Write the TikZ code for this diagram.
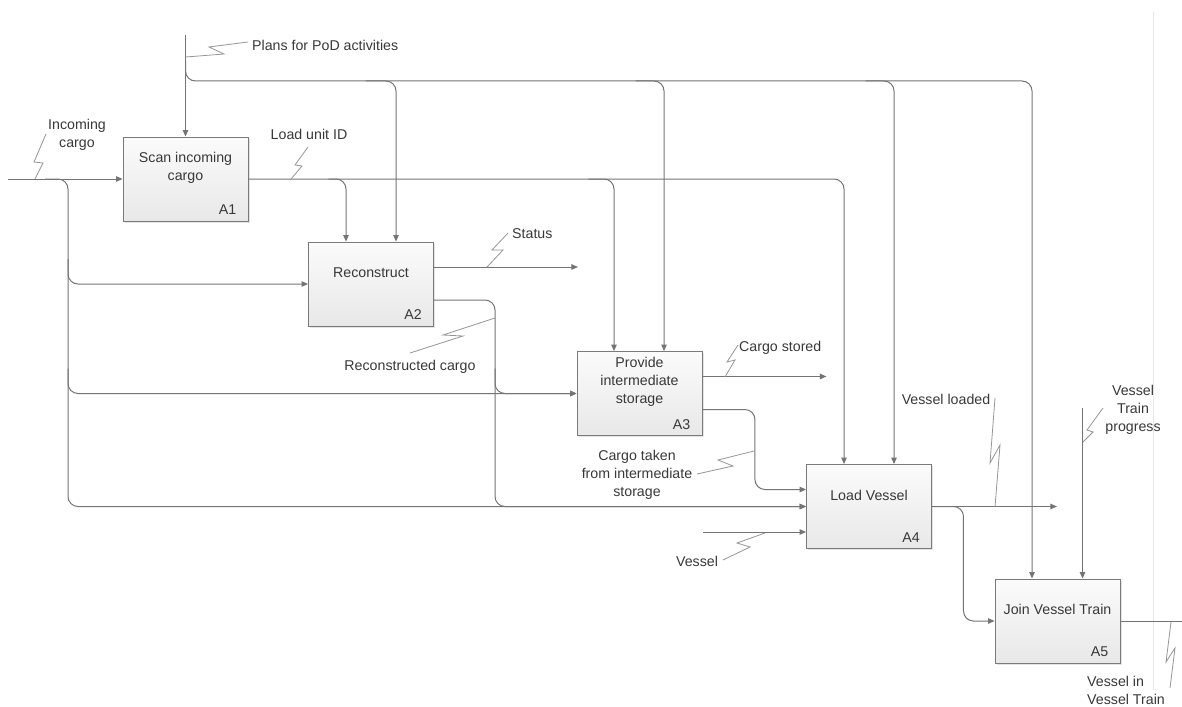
\documentclass[tikz,border=0pt]{standalone}
\usepackage{fontspec}
\setmainfont{Liberation Sans}
\usetikzlibrary{arrows.meta,shadows,calc}
\definecolor{linegray}{HTML}{747474}
\definecolor{squig}{HTML}{959595}
\definecolor{txt}{HTML}{383838}
\definecolor{boxedge}{HTML}{7A7A7A}
\definecolor{boxtop}{HTML}{FBFBFB}
\definecolor{boxbottom}{HTML}{E8E8E8}
\definecolor{sepline}{HTML}{E6E6E6}
\begin{document}
\begin{tikzpicture}[x=1pt,y=-1pt,
  font=\fontsize{14.2}{18}\selectfont, text=txt,
  box/.style={draw=boxedge, line width=0.9pt, top color=boxtop, bottom color=boxbottom,
    minimum width=125pt, minimum height=84pt, inner sep=0pt,
    drop shadow={shadow xshift=1.5pt, shadow yshift=-1.5pt, opacity=0.3, fill=black!35}},
  title/.style={align=center, inner sep=0pt},
  num/.style={anchor=base east, inner sep=0pt},
  flow/.style={draw=linegray, line width=1pt, -{Triangle[length=6.5pt,width=5.5pt]}},
  plain/.style={draw=linegray, line width=1pt},
  roundbend/.style={rounded corners=10pt},
  squiggle/.style={draw=squig, line width=0.8pt},
  lbl/.style={inner sep=0pt, align=center}]
\useasboundingbox (0,0) rectangle (1182,706);

% page separator
\draw[sepline, line width=1pt] (1153,12) -- (1153,690);

% activity boxes
\node[box] (A1) at (185.5,179) {};
\node[box] (A2) at (371,284) {};
\node[box] (A3) at (639.5,393.5) {};
\node[box] (A4) at (869,506.5) {};
\node[box] (A5) at (1057.5,621) {};

\node[title] at ([yshift=-31pt]A1.north) {Scan incoming\\cargo};
\node[title] at ([yshift=-31pt]A2.north) {Reconstruct};
\node[title] at ([yshift=-31pt]A3.north) {Provide\\intermediate\\storage};
\node[title] at ([yshift=-31pt]A4.north) {Load Vessel};
\node[title] at ([yshift=-31pt]A5.north) {Join Vessel Train};

\node[num] at ([xshift=-12pt,yshift=6.5pt]A1.south east) {A1};
\node[num] at ([xshift=-12pt,yshift=6.5pt]A2.south east) {A2};
\node[num] at ([xshift=-12pt,yshift=6.5pt]A3.south east) {A3};
\node[num] at ([xshift=-12pt,yshift=6.5pt]A4.south east) {A4};
\node[num] at ([xshift=-12pt,yshift=6.5pt]A5.south east) {A5};

% incoming cargo
\coordinate (cin) at (8,179);
\coordinate (inx) at (68,0);
\draw[flow] (cin) -- (A1.west);
\draw[flow,roundbend] ($(cin)+(37,0)$) -| (inx |- A4.west) -- (A4.west);
\draw[flow,roundbend] ($(inx |- A2.west)+(0,-25)$) |- (A2.west);
\draw[flow,roundbend] ($(inx |- A3.west)+(0,-25)$) |- (A3.west);

% plans for PoD activities
\coordinate (plansTop) at (185.5,35);
\coordinate (ctrl) at (185.5,81);
\draw[flow] (plansTop) -- (A1.north);
\draw[flow,roundbend] ($(ctrl)+(0,-20)$) -- (ctrl) -| ([xshift=-25.5pt]A5.north);
\draw[flow,roundbend] ($(ctrl)+(180,0)$) -| ([xshift=25pt]A2.north);
\draw[flow,roundbend] ($(ctrl)+(450,0)$) -| ([xshift=24.5pt]A3.north);
\draw[flow,roundbend] ($(ctrl)+(680,0)$) -| ([xshift=25pt]A4.north);

% load unit ID
\draw[flow,roundbend] (A1.east) -| ([xshift=-25pt]A4.north);
\draw[flow,roundbend] ([xshift=80pt]A1.east) -| ([xshift=-25pt]A2.north);
\draw[flow,roundbend] ([xshift=340pt]A1.east) -| ([xshift=-25.5pt]A3.north);

% status
\draw[flow] ([yshift=17pt]A2.east) -- ++(144,0);

% reconstructed cargo
\coordinate (rcx) at (495,0);
\draw[flow,roundbend] ([yshift=-16pt]A2.east) -| (rcx |- A4.west) -- (A4.west);
\draw[flow,roundbend] ($(rcx |- A3.west)+(0,-25)$) |- (A3.west);

% cargo stored
\draw[flow] ([yshift=17pt]A3.east) -- ++(124,0);

% cargo taken from intermediate storage
\draw[flow,roundbend] ([yshift=-16pt]A3.east) -- ++(52.5,0) |- ([yshift=17pt]A4.west);

% vessel
\coordinate (vIn) at (703,532);
\draw[flow] (vIn) -- (vIn -| A4.west);

% vessel loaded
\draw[flow] (A4.east) -- ++(125,0);
\draw[flow,roundbend] (A4.east) -- ++(31.5,0) |- (A5.west);

% vessel train progress
\coordinate (prog) at (1082.5,408);
\draw[flow] (prog) -- ([xshift=25pt]A5.north);

% vessel in vessel train
\draw[plain] (A5.east) -- ++(62,0);

% arrow labels
\node[lbl] (lInc) at (77,134.5) {\fontsize{14.2}{17}\selectfont Incoming\\cargo};
\draw[squiggle] (35,179) -- (43,163) -- (34,162) -- (46,134);

\node[lbl, anchor=west] (lPlans) at (252,45) {Plans for PoD activities};
\draw[squiggle] (186,57) -- (224,54) -- (209,47) -- (248,42);

\node[lbl] (lLU) at (309,134) {Load unit ID};
\draw[squiggle] (291,179) -- (302,166) -- (295,165) -- (308,147);

\node[lbl, anchor=west] (lStatus) at (512,234) {Status};
\draw[squiggle] (487,267) -- (503,250) -- (492,250) -- (508,233);

\node[lbl] (lRec) at (410,367) {Reconstructed cargo};
\draw[squiggle] (495,318) -- (443,335) -- (463,336) -- (410,353);

\node[lbl, anchor=west] (lStored) at (739,348) {Cargo stored};
\draw[squiggle] (725,377) -- (735,360) -- (727,362) -- (738,345);

\node[lbl] (lTaken) at (637,475) {Cargo taken\\from intermediate\\storage};
\draw[squiggle] (754,451) -- (718,460) -- (733,466) -- (697,474);

\node[lbl] (lLoaded) at (946,399) {Vessel loaded};
\draw[squiggle] (995,507) -- (1000,445) -- (990,463) -- (995,398);

\node[lbl] (lVessel) at (697,561) {Vessel};
\draw[squiggle] (765,533) -- (737,543) -- (750,547) -- (723,560);

\node[lbl] (lProg) at (1133,410) {Vessel\\Train\\progress};
\draw[squiggle] (1083,442) -- (1093,432) -- (1087,430) -- (1103,408);

\node[lbl, align=left, anchor=west] (lOut) at (1087,690) {\fontsize{14.2}{16.5}\selectfont Vessel in\\Vessel Train};
\draw[squiggle] (1171,622) -- (1166,662) -- (1175,648) -- (1170,688);
\end{tikzpicture}
\end{document}
